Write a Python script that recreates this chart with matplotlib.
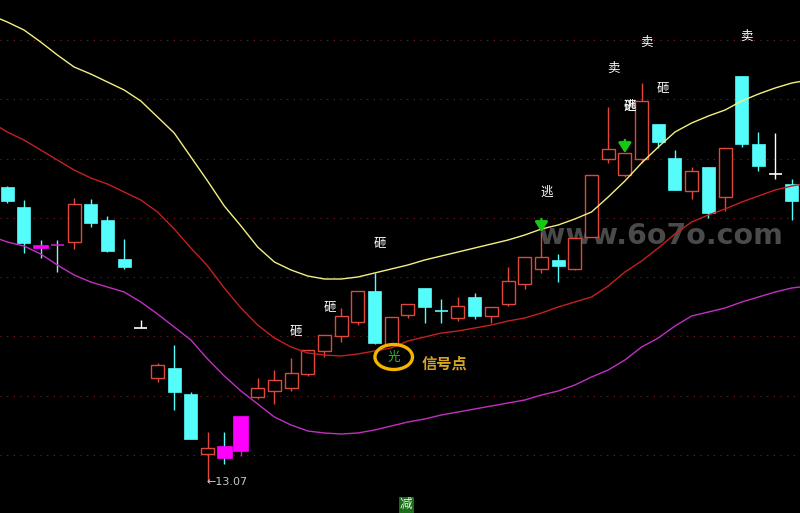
import numpy as np
import matplotlib.pyplot as plt
from matplotlib.patches import Ellipse, Rectangle
from matplotlib.transforms import blended_transform_factory

plt.rcParams['font.family'] = ['Noto Sans CJK SC', 'DejaVu Sans']

# daily bars
opens = [16.02, 15.82, 15.44, 15.44, 15.47, 15.85, 15.69, 15.30, 14.61, 14.11,
         14.21, 13.95, 13.35, 13.43, 13.38, 13.92, 13.98, 14.01, 14.15, 14.38,
         14.53, 14.67, 14.98, 14.44, 14.74, 15.01, 14.78, 14.71, 14.92, 14.73,
         14.85, 15.05, 15.20, 15.29, 15.20, 15.52, 16.30, 16.14, 16.30, 16.65,
         16.31, 15.98, 16.22, 15.92, 17.13, 16.45, 16.15, 16.05]
highs = [16.03, 15.89, 15.49, 15.49, 15.91, 15.90, 15.73, 15.50, 14.69, 14.26,
         14.44, 13.97, 13.57, 13.57, 13.73, 14.11, 14.19, 14.31, 14.39, 14.54,
         14.81, 14.98, 15.16, 14.72, 14.85, 15.01, 14.90, 14.92, 14.96, 14.82,
         15.22, 15.32, 15.57, 15.35, 15.51, 16.14, 16.82, 16.36, 17.06, 16.65,
         16.39, 16.22, 16.22, 16.41, 17.13, 16.57, 16.56, 16.10]
lows = [15.86, 15.36, 15.31, 15.17, 15.40, 15.62, 15.37, 15.20, 14.61, 14.07,
        13.79, 13.50, 13.07, 13.25, 13.33, 13.90, 13.85, 13.98, 14.13, 14.32,
        14.47, 14.64, 14.45, 14.44, 14.71, 14.66, 14.66, 14.68, 14.70, 14.66,
        14.83, 15.00, 15.16, 15.07, 15.19, 15.52, 16.26, 16.12, 16.26, 16.41,
        15.99, 15.90, 15.71, 15.78, 16.42, 16.18, 16.10, 15.69]
closes = [15.88, 15.46, 15.41, 15.44, 15.85, 15.66, 15.38, 15.22, 14.61, 14.24,
          13.97, 13.50, 13.41, 13.31, 13.73, 14.01, 14.09, 14.16, 14.39, 14.54,
          14.73, 14.98, 14.46, 14.72, 14.85, 14.82, 14.78, 14.83, 14.73, 14.82,
          15.08, 15.32, 15.32, 15.23, 15.51, 16.14, 16.40, 16.36, 16.88, 16.47,
          15.99, 16.18, 15.76, 16.41, 16.45, 16.23, 16.15, 15.88]
# u = up, d = down, m/M = marked bar, w/c/p = flat bar
kind = ['d', 'd', 'm', 'p', 'u', 'd', 'd', 'd', 'w', 'u',
        'd', 'd', 'u', 'm', 'M', 'u', 'u', 'u', 'u', 'u',
        'u', 'u', 'd', 'u', 'u', 'd', 'c', 'u', 'd', 'u',
        'u', 'u', 'u', 'd', 'u', 'u', 'u', 'u', 'u', 'd',
        'd', 'u', 'd', 'u', 'd', 'd', 'w', 'd']

# band lines, bar -1 .. 48
upper_line = [17.74, 17.67, 17.59, 17.47, 17.34, 17.22, 17.15, 17.07, 16.99, 16.88,
              16.72, 16.56, 16.32, 16.08, 15.83, 15.63, 15.42, 15.27, 15.19, 15.13,
              15.10, 15.10, 15.12, 15.16, 15.20, 15.24, 15.29, 15.33, 15.37, 15.41,
              15.45, 15.49, 15.54, 15.60, 15.64, 15.70, 15.77, 15.92, 16.08, 16.26,
              16.42, 16.57, 16.66, 16.73, 16.79, 16.88, 16.95, 17.01, 17.06, 17.09]
mid_line = [16.67, 16.57, 16.49, 16.39, 16.29, 16.19, 16.11, 16.05, 15.97, 15.89,
            15.77, 15.60, 15.41, 15.23, 15.01, 14.81, 14.64, 14.51, 14.42, 14.36,
            14.34, 14.33, 14.35, 14.38, 14.41, 14.48, 14.52, 14.56, 14.58, 14.61,
            14.64, 14.68, 14.71, 14.76, 14.82, 14.87, 14.92, 15.03, 15.17, 15.28,
            15.41, 15.55, 15.67, 15.74, 15.80, 15.87, 15.93, 15.99, 16.03, 16.06]
lower_line = [15.53, 15.47, 15.43, 15.35, 15.24, 15.14, 15.07, 15.02, 14.97, 14.87,
              14.75, 14.62, 14.49, 14.30, 14.13, 13.98, 13.85, 13.72, 13.64, 13.58,
              13.56, 13.55, 13.56, 13.59, 13.63, 13.67, 13.70, 13.74, 13.77, 13.80,
              13.83, 13.86, 13.89, 13.94, 13.98, 14.04, 14.12, 14.19, 14.29, 14.42,
              14.51, 14.63, 14.73, 14.77, 14.81, 14.87, 14.92, 14.97, 15.01, 15.03]

grid_levels = [17.49, 16.90, 16.30, 15.71, 15.12, 14.53, 13.93, 13.34]

signal_bars = [17, 19, 22, 32, 36, 37, 37, 38, 39, 44]
signal_text = ['砸', '砸', '砸', '逃', '卖', '逃', '砸', '卖', '砸', '卖']
signal_lift = [27, 28, 30, 40, 39, 47, 47, 41, 36, 40]
arrow_bars = [32, 37]
light_bar = 23
low_bar = 12
reduce_bar = 24

RED = '#e0483c'
CYAN = '#54fcfc'
MAG = '#ff00ff'

fig = plt.figure(figsize=(8, 5.13), dpi=100, facecolor='black')
ax = fig.add_axes([0, 0, 1, 1])
ax.set_facecolor('black')
ax.set_xlim(-0.437, 47.49)
ax.set_ylim(12.76, 17.89)
ax.set_axis_off()

for g in grid_levels:
    ax.axhline(g, color='#8a1a1a', lw=0.8, ls=(0, (1, 5)), zorder=0)

ax.text(0.826, 0.54, 'www.6o7o.com', transform=ax.transAxes, color='#4a4a4a',
        fontsize=20.5, fontweight='bold', family='DejaVu Sans',
        ha='center', va='center', zorder=1)

w = 0.78
for i in range(len(opens)):
    o, h, l, c, k = opens[i], highs[i], lows[i], closes[i], kind[i]
    if k == 'u':
        ax.vlines(i, l, h, color=RED, lw=1, zorder=3)
        ax.add_patch(Rectangle((i - w / 2, o), w, c - o, facecolor='black',
                               edgecolor=RED, lw=1, zorder=4))
    elif k == 'd':
        ax.vlines(i, l, h, color=CYAN, lw=1, zorder=3)
        ax.add_patch(Rectangle((i - w / 2, c), w, o - c, facecolor=CYAN,
                               edgecolor=CYAN, lw=0.5, zorder=4))
    elif k in ('m', 'M'):
        ax.vlines(i, l, h, color=CYAN if k == 'm' else MAG, lw=1, zorder=3)
        ax.add_patch(Rectangle((i - 0.45, min(o, c)), 0.9, abs(o - c), facecolor=MAG,
                               edgecolor=MAG, lw=0.5, zorder=4))
    else:
        wick = {'w': 'white', 'c': CYAN, 'p': '#a0e8f0'}[k]
        flat = {'w': 'white', 'c': CYAN, 'p': '#c020c0'}[k]
        ax.vlines(i, l, h, color=wick, lw=1, zorder=3)
        ax.hlines(o, i - w / 2, i + w / 2, color=flat, lw=1.2, zorder=4)

xs = np.arange(-1, 49)
ax.plot(xs, upper_line, color='#f4f080', lw=1, zorder=5)
ax.plot(xs, mid_line, color='#c42020', lw=1, zorder=5)
ax.plot(xs, lower_line, color='#c030c0', lw=1, zorder=5)

for b, t, lift in zip(signal_bars, signal_text, signal_lift):
    ax.annotate(t, (b, highs[b]), xytext=(5, lift), textcoords='offset pixels',
                color='white', fontsize=9, ha='center', va='center', zorder=7)

for b in arrow_bars:
    ax.annotate('', xy=(b, highs[b]), xytext=(0, 13), textcoords='offset pixels',
                arrowprops=dict(arrowstyle='-|>,head_width=0.32,head_length=0.5',
                                color='#14c814', lw=1.8, mutation_scale=12,
                                shrinkA=0, shrinkB=0), zorder=7)

cy = lows[light_bar] - 0.12
ax.add_patch(Ellipse((light_bar + 0.15, cy), 2.25, 0.25, facecolor='none',
                     edgecolor='#f4b400', lw=2.4, zorder=6))
ax.text(light_bar + 0.15, cy, '光', color='#30c030', fontsize=9,
        ha='center', va='center', zorder=7)
ax.annotate('信号点', (light_bar + 0.15, cy), xytext=(28, -7), textcoords='offset pixels',
            color='#d8a422', fontsize=11, fontweight='bold', ha='left', va='center', zorder=7)

ax.annotate('\u2190' + f'{lows[low_bar]:.2f}', (low_bar, lows[low_bar]), xytext=(-1, 0),
            textcoords='offset pixels', color='#c8c8c8', fontsize=8,
            family='DejaVu Sans', ha='left', va='center', zorder=7)

trans = blended_transform_factory(ax.transData, ax.transAxes)
ax.text(reduce_bar - 0.1, 0.016, '减', transform=trans, color='#d8f8d8', fontsize=9,
        ha='center', va='center', zorder=7,
        bbox=dict(boxstyle='square,pad=0.1', facecolor='#1c6c1c', edgecolor='none'))

fig.savefig('out.png', dpi=100, facecolor='black')
